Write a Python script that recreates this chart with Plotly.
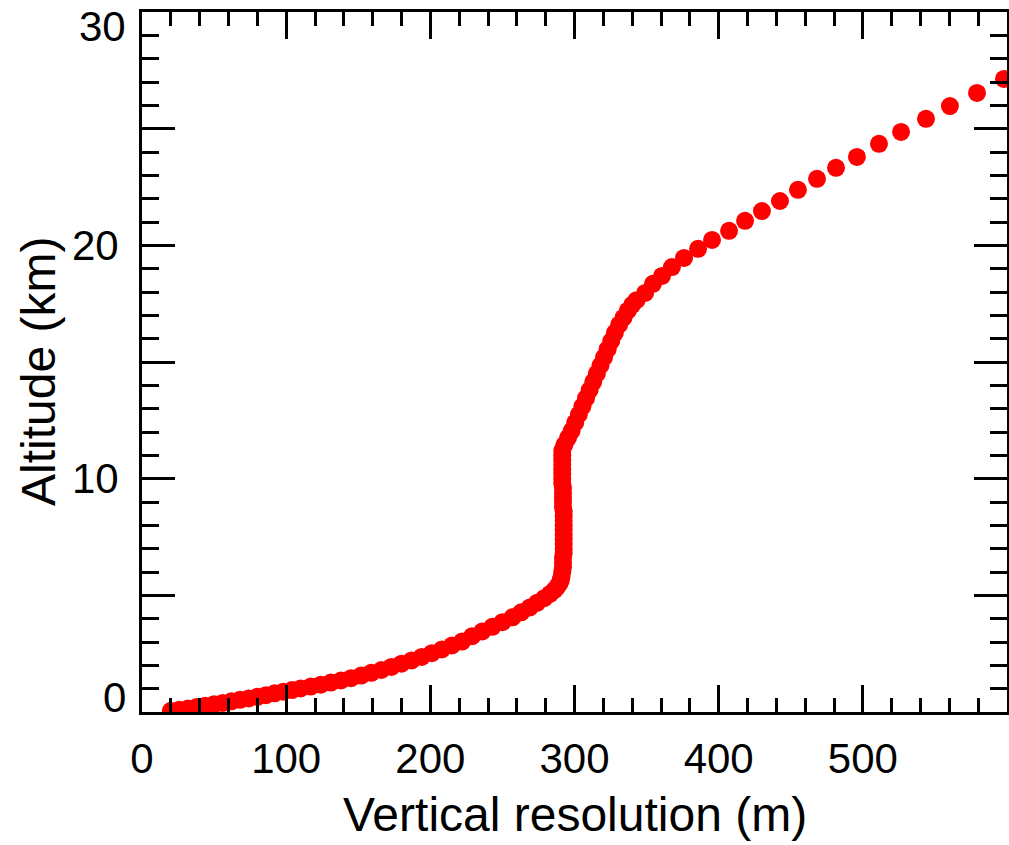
import plotly.graph_objects as go

# Vertical resolution (m) vs altitude (km)
resolution_m = [
    # lower section
    20, 26, 32, 38, 44, 50, 56, 62, 68, 74, 80, 86, 92, 98, 104, 110, 117, 124,
    131, 138, 145, 152, 159, 166, 173, 180, 187, 194, 201, 208, 215, 222, 229,
    236, 243, 250, 257, 263, 269, 274, 279, 283, 286, 288,
    # near-vertical section
    289.5, 290.5, 291, 291.5, 292, 292, 292, 292.5, 292.5, 292.5, 292.5, 292.5,
    292.5, 292.5, 292.5, 292.5, 292.5, 292, 292, 292, 292, 292, 291.5, 291.5,
    291.5, 291.5, 291.5, 291.5, 291.5,
    # slanted section
    291.5, 293, 295.5, 298, 300.5, 303, 305.5, 308, 310.5, 313, 315.5, 318,
    320.5, 323, 325.5, 328, 331, 334, 337, 340, 343,
    # upper sparse section
    349, 354.4, 360.7, 367.6, 376, 385.7, 395.4, 407.2, 418.3, 430.0, 442.5,
    455.0, 468.2, 481.4, 495.9, 511.2, 526.5, 543.8, 560.4, 579.2, 597.9,
]
altitude_km = [
    0.05, 0.10, 0.15, 0.21, 0.27, 0.33, 0.39, 0.46, 0.52, 0.58, 0.65, 0.72, 0.80,
    0.87, 0.94, 1.01, 1.09, 1.17, 1.26, 1.35, 1.45, 1.56, 1.68, 1.80, 1.93, 2.07,
    2.21, 2.36, 2.52, 2.68, 2.85, 3.02, 3.25, 3.45, 3.65, 3.85, 4.06, 4.27, 4.48,
    4.68, 4.88, 5.06, 5.22, 5.36,
    5.5, 5.65, 5.8, 6.0, 6.2, 6.4, 6.6, 6.8, 7.0, 7.2, 7.4, 7.6, 7.8, 8.0, 8.2,
    8.4, 8.6, 8.8, 9.0, 9.2, 9.4, 9.6, 9.8, 10.0, 10.2, 10.4, 10.6, 10.8, 11.0,
    11.2, 11.45, 11.75, 12.05, 12.4, 12.75, 13.1, 13.45, 13.8, 14.15, 14.5, 14.85,
    15.2, 15.55, 15.9, 16.25, 16.6, 16.9, 17.2, 17.45, 17.65,
    17.96, 18.35, 18.69, 19.07, 19.46, 19.85, 20.23, 20.62, 21.05, 21.47, 21.90,
    22.38, 22.85, 23.32, 23.79, 24.35, 24.86, 25.42, 25.97, 26.53, 27.13,
]

x_tick_vals = [0, 100, 200, 300, 400, 500, 600]
x_tick_text = ["0", "100", "200", "300", "400", "500", ""]
y_tick_vals = [0, 5, 10, 15, 20, 25, 30]
y_tick_text = ["", "", "10", "", "20", "", ""]

FONT = "Liberation Sans, Arial, Helvetica, sans-serif"
TICK_SIZE = 42
TITLE_SIZE = 48

fig = go.Figure()
fig.add_trace(go.Scatter(
    x=resolution_m, y=altitude_km, mode="markers",
    marker=dict(color="#ff0000", size=18, line=dict(width=0)),
    cliponaxis=True, showlegend=False,
))
# empty trace so the mirrored (top/right) tick axes are drawn
fig.add_trace(go.Scatter(x=[], y=[], xaxis="x2", yaxis="y2", showlegend=False, hoverinfo="skip"))

common = dict(
    showline=True, linecolor="black", linewidth=3,
    ticks="inside", tickcolor="black", tickwidth=3,
    showgrid=False, zeroline=False,
    tickfont=dict(family=FONT, size=TICK_SIZE, color="black"),
)
x_minor = dict(ticks="inside", dtick=20, ticklen=14, tickwidth=3, tickcolor="black", showgrid=False)
y_minor = dict(ticks="inside", dtick=1, ticklen=17, tickwidth=3, tickcolor="black", showgrid=False)

fig.update_layout(
    xaxis=dict(range=[0, 600], tickvals=x_tick_vals, ticktext=x_tick_text, ticklen=27,
               minor=x_minor, ticklabelstandoff=8, **common),
    yaxis=dict(range=[0, 30], tickvals=y_tick_vals, ticktext=y_tick_text, ticklen=33,
               minor=y_minor, ticklabelstandoff=12, **common),
    xaxis2=dict(range=[0, 600], tickvals=x_tick_vals, ticklen=27, minor=x_minor,
                overlaying="x", side="top", anchor="y", showticklabels=False, **common),
    yaxis2=dict(range=[0, 30], tickvals=y_tick_vals, ticklen=33, minor=y_minor,
                overlaying="y", side="right", anchor="x", showticklabels=False, **common),
)

fig.add_annotation(text="0", xref="paper", yref="y", x=0, y=0, xanchor="right", yanchor="middle",
                   xshift=-14, yshift=15, showarrow=False,
                   font=dict(family=FONT, size=TICK_SIZE, color="black"))
fig.add_annotation(text="30", xref="paper", yref="y", x=0, y=30, xanchor="right", yanchor="middle",
                   xshift=-14, yshift=-14, showarrow=False,
                   font=dict(family=FONT, size=TICK_SIZE, color="black"))
fig.add_annotation(text="Vertical resolution (m)", xref="paper", yref="paper", x=0.5, y=0,
                   xanchor="center", yanchor="middle", yshift=-102, showarrow=False,
                   font=dict(family=FONT, size=TITLE_SIZE, color="black"))
fig.add_annotation(text="Altitude (km)", xref="paper", yref="paper", x=0, y=0.5,
                   xanchor="center", yanchor="middle", xshift=-104, yshift=-10, textangle=-90,
                   showarrow=False, font=dict(family=FONT, size=TITLE_SIZE, color="black"))

fig.update_layout(
    width=1009, height=845,
    margin=dict(l=142, r=2, t=12, b=133, autoexpand=False),
    paper_bgcolor="white", plot_bgcolor="white",
    font=dict(family=FONT, color="black"),
)

fig.write_html("out.html", config={"displayModeBar": False},
               post_script="document.body.style.margin='0';")
